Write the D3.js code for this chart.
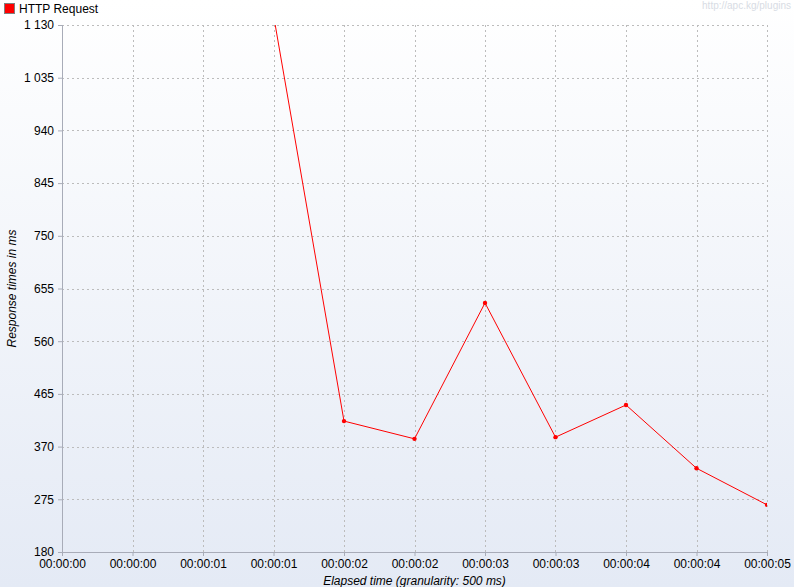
<!DOCTYPE html>
<html lang="en">
<head>
<meta charset="UTF-8">
<title>HTTP Request response times</title>
<script src="https://d3js.org/d3.v7.min.js"></script>
<style>
    body { margin: 0; }
    svg { display: block; font-family: "Liberation Sans", Arial, sans-serif; }
    .grid line { stroke: #bcbcbc; stroke-dasharray: 2,3; }
    .axis path, .axis line { stroke: #a8acb8; }
    .axis text { fill: #000; font-size: 12px; }
</style>
</head>
<body>
<svg id="chart" width="794" height="587"></svg>
<script>
// elapsed time in ms (500 ms granularity) and average response time in ms
const elapsed = [1500, 2000, 2500, 3000, 3500, 4000, 4500, 5000];
const responseMs = [1148, 416, 384, 629, 387, 445, 331, 265];
const yTicks = [180, 275, 370, 465, 560, 655, 750, 845, 940, 1035, 1130];
const xTicks = [0, 500, 1000, 1500, 2000, 2500, 3000, 3500, 4000, 4500, 5000];
const seriesName = "HTTP Request";

const svg = d3.select("#chart"),
      width = +svg.attr("width"),
      height = +svg.attr("height");
const margin = { top: 25, right: 27, bottom: 35, left: 62 };
const plotW = width - margin.left - margin.right,
      plotH = height - margin.top - margin.bottom;

// background gradient
const defs = svg.append("defs");
const grad = defs.append("linearGradient").attr("id", "bg")
    .attr("x1", 0).attr("y1", 0).attr("x2", 0).attr("y2", 1);
grad.append("stop").attr("offset", "0%").attr("stop-color", "#ffffff");
grad.append("stop").attr("offset", "100%").attr("stop-color", "#e4eaf5");
defs.append("clipPath").attr("id", "clip")
  .append("rect").attr("width", plotW).attr("height", plotH);

svg.append("rect").attr("width", width).attr("height", height).attr("fill", "url(#bg)");

const x = d3.scaleLinear().domain([0, 5000]).range([0, plotW]);
const y = d3.scaleLinear().domain([180, 1130]).range([plotH, 0]);

const g = svg.append("g").attr("transform", `translate(${margin.left},${margin.top})`);

// grid
g.append("g").attr("class", "grid")
  .selectAll("line").data(yTicks.slice(1)).join("line")
    .attr("x1", 0).attr("x2", plotW)
    .attr("y1", d => Math.round(y(d)) + 0.5).attr("y2", d => Math.round(y(d)) + 0.5);
g.append("g").attr("class", "grid")
  .selectAll("line").data(xTicks.slice(1)).join("line")
    .attr("y1", 0).attr("y2", plotH)
    .attr("x1", d => Math.round(x(d)) + 0.5).attr("x2", d => Math.round(x(d)) + 0.5);

// axes
const fmtTime = ms => {
    const s = Math.floor(ms / 1000);
    const pad = n => String(n).padStart(2, "0");
    return `${pad(Math.floor(s / 3600))}:${pad(Math.floor(s / 60) % 60)}:${pad(s % 60)}`;
};
const fmtNum = v => d3.format(",")(v).replace(/,/g, " ");

g.append("g").attr("class", "axis")
    .call(d3.axisLeft(y).tickValues(yTicks).tickFormat(fmtNum).tickSize(4).tickSizeOuter(0).tickPadding(4))
    .call(a => a.select(".domain").attr("d", `M0.5,0V${plotH}`));
g.append("g").attr("class", "axis")
    .attr("transform", `translate(0,${plotH})`)
    .call(d3.axisBottom(x).tickValues(xTicks).tickFormat(fmtTime).tickSize(4).tickSizeOuter(0).tickPadding(3))
    .call(a => a.selectAll("text").attr("dy", "0.71em"));

// series
const data = elapsed.map((t, i) => ({ t, v: responseMs[i] }));
const line = d3.line().x(d => x(d.t)).y(d => y(d.v));
const plot = g.append("g").attr("clip-path", "url(#clip)");
plot.append("path").datum(data)
    .attr("fill", "none").attr("stroke", "#ff0000").attr("stroke-width", 1)
    .attr("d", line);
plot.selectAll("circle").data(data).join("circle")
    .attr("cx", d => x(d.t)).attr("cy", d => y(d.v)).attr("r", 2.2)
    .attr("fill", "#ff0000");

// axis titles
svg.append("text")
    .attr("transform", `translate(16,${margin.top + plotH / 2}) rotate(-90)`)
    .attr("text-anchor", "middle").attr("font-size", 12).attr("font-style", "italic")
    .text("Response times in ms");
svg.append("text")
    .attr("x", margin.left + plotW / 2).attr("y", height - 2)
    .attr("text-anchor", "middle").attr("font-size", 12).attr("font-style", "italic")
    .text("Elapsed time (granularity: 500 ms)");

// legend
svg.append("rect").attr("x", 4.5).attr("y", 3.5).attr("width", 10).attr("height", 10)
    .attr("fill", "#ff0000").attr("stroke", "#808080");
svg.append("text").attr("x", 19).attr("y", 13).attr("font-size", 12).text(seriesName);

// watermark
svg.append("text").attr("x", width - 3).attr("y", 9)
    .attr("text-anchor", "end").attr("font-size", 10).attr("fill", "#d8dce4")
    .text("http://apc.kg/plugins");
</script>
</body>
</html>
